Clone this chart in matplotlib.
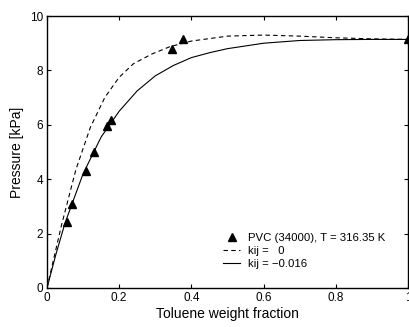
import matplotlib
matplotlib.use("Agg")
import matplotlib.pyplot as plt

plt.rcParams['font.family'] = ['Liberation Sans', 'DejaVu Sans']

# Experimental data: PVC (34000), T = 316.35 K
exp_x = [0.056, 0.070, 0.108, 0.131, 0.167, 0.178, 0.347, 0.378, 1.0]
exp_p = [2.43, 3.09, 4.30, 5.00, 5.96, 6.17, 8.79, 9.15, 9.15]

# Model kij = 0 (dashed)
k0_x = [0.0, 0.04, 0.08, 0.12, 0.16, 0.20, 0.24, 0.29, 0.34, 0.40, 0.50, 0.60, 0.70, 0.80, 0.90, 1.0]
k0_p = [0.0, 2.30, 4.35, 5.90, 7.00, 7.75, 8.25, 8.60, 8.87, 9.08, 9.26, 9.30, 9.26, 9.20, 9.16, 9.14]

# Model kij = -0.016 (solid)
k1_x = [0.0, 0.025, 0.05, 0.10, 0.15, 0.20, 0.25, 0.30, 0.35, 0.40, 0.45, 0.50, 0.60, 0.70, 0.80, 0.90, 1.0]
k1_p = [0.0, 1.25, 2.39, 4.20, 5.55, 6.50, 7.25, 7.80, 8.18, 8.47, 8.65, 8.80, 9.00, 9.10, 9.13, 9.14, 9.14]

xticks = [0, 0.2, 0.4, 0.6, 0.8, 1]
xticklabels = ['0', '0.2', '0.4', '0.6', '0.8', '1']
yticks = [0, 2, 4, 6, 8, 10]

fig = plt.figure(figsize=(4.10, 3.27), dpi=100)
ax = fig.add_axes([0.1146, 0.1193, 0.8804, 0.8317])

ax.plot(exp_x, exp_p, linestyle='none', marker='^', color='black', markersize=5.5,
        label='PVC (34000), T = 316.35 K', clip_on=False, zorder=3)
ax.plot(k0_x, k0_p, linestyle=(0, (4, 3)), color='black', linewidth=0.8, label='kij =   0')
ax.plot(k1_x, k1_p, linestyle='-', color='black', linewidth=0.8, label='kij = \u22120.016')

ax.set_xlim(0, 1)
ax.set_ylim(0, 10)
ax.set_xticks(xticks)
ax.set_xticklabels(xticklabels)
ax.set_yticks(yticks)
ax.tick_params(direction='in', top=True, right=True, length=3, width=0.8, labelsize=8.5, pad=3)
for s in ax.spines.values():
    s.set_linewidth(1.0)

ax.set_xlabel('Toluene weight fraction', fontsize=10, labelpad=2)
ax.set_ylabel('Pressure [kPa]', fontsize=10, labelpad=4)

leg = ax.legend(loc='upper left', bbox_to_anchor=(0.482, 0.212), frameon=False, fontsize=8.2,
                handlelength=1.5, handletextpad=0.7, labelspacing=0.28, borderpad=0.2,
                borderaxespad=0.0)

fig.savefig('out.png', dpi=100)
